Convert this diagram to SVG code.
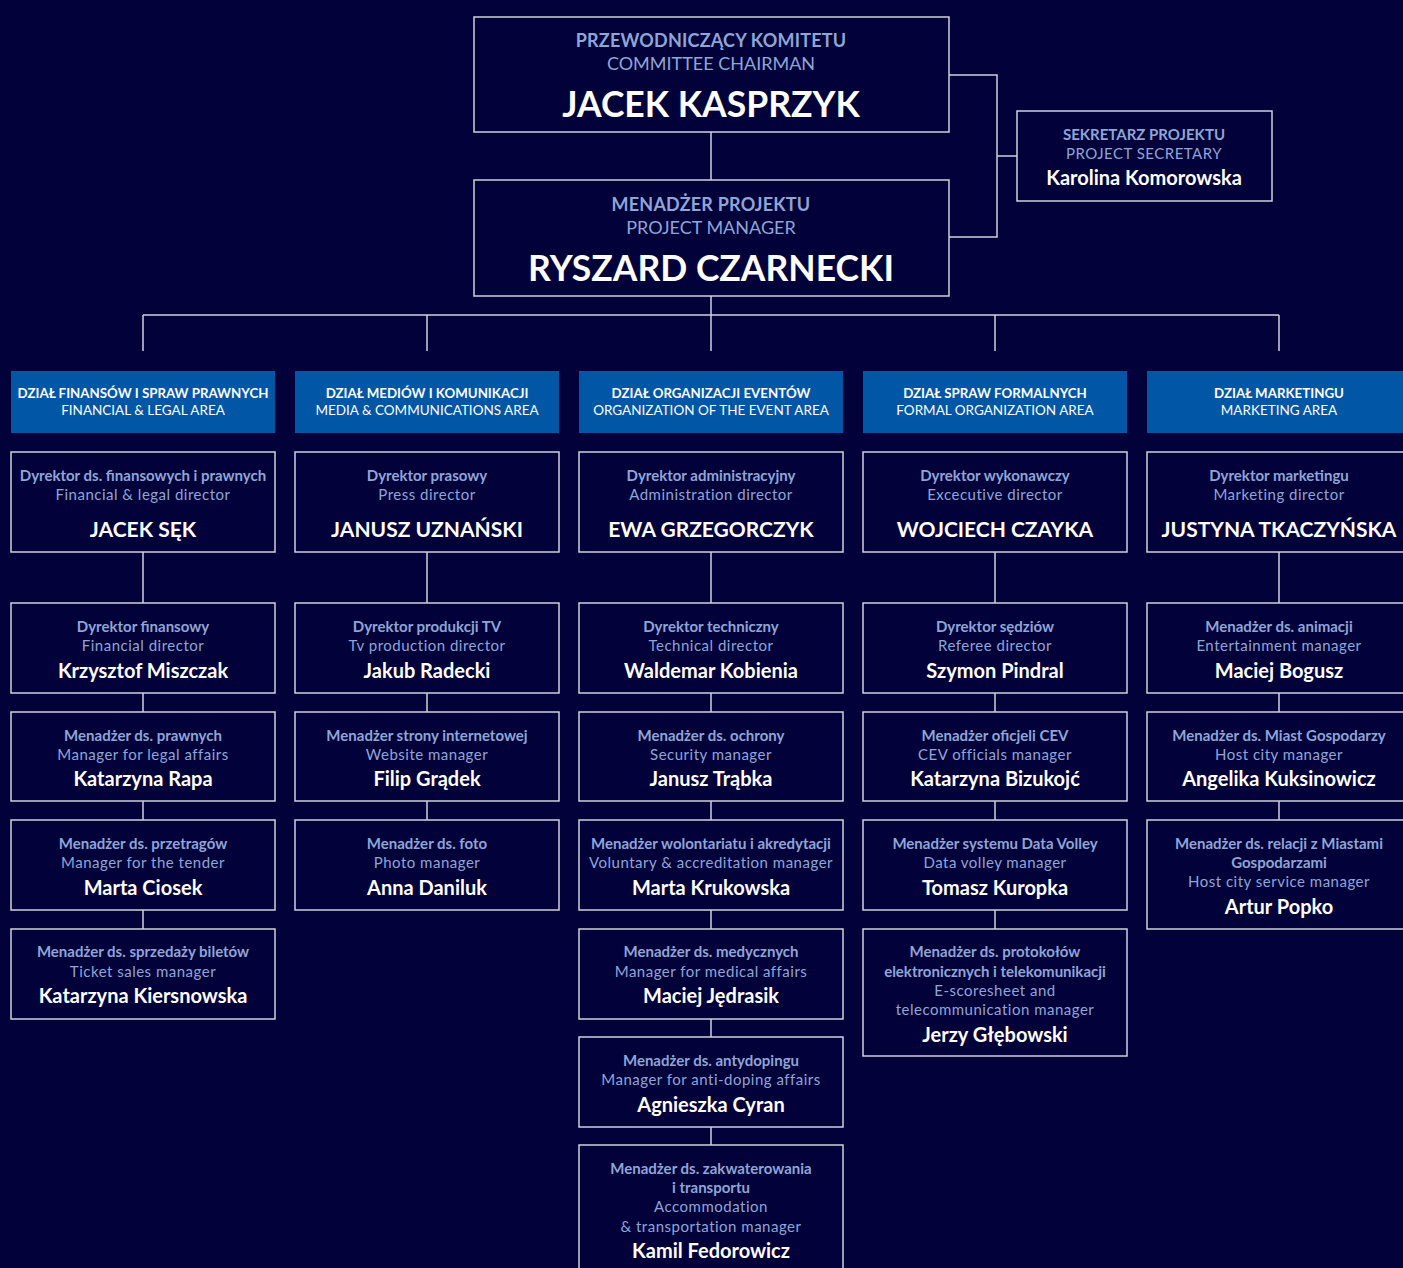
<svg xmlns="http://www.w3.org/2000/svg" width="1403" height="1268" viewBox="0 0 1403 1268">
<style>
text{font-family:Lato,"Noto Sans","Liberation Sans",sans-serif;text-anchor:middle}
.box{fill:#03013a;stroke:#cfd0dc;stroke-width:1.5}
.hdr{fill:#0156a6}
.t{fill:#8ea5d6;font-size:15px;font-weight:700}
.s{fill:#8ea5d6;font-size:15px;font-weight:400;letter-spacing:0.5px}
.n{fill:#ffffff;font-size:20px;font-weight:700}
.N{fill:#ffffff;font-size:21px;font-weight:700}
.ht{fill:#ffffff;font-size:13.3px;font-weight:700}
.hs{fill:#ffffff;font-size:13.5px;font-weight:400}
.big{fill:#ffffff;font-size:35.5px;font-weight:700}
.bt{fill:#8ea5d6;font-size:18px;font-weight:700;letter-spacing:0.2px}
.bs{fill:#8ea5d6;font-size:18px;font-weight:400}
.c{stroke:#cfd0dc;stroke-width:1.5;fill:none}
</style>
<rect width="1403" height="1268" fill="#03013a"/>
<g id="connectors">
<path class="c" d="M949,75H997V237H949M997,156H1017"/>
<path class="c" d="M711,132V180M711,296V315M143,315H1279M143,315V351M427,315V351M711,315V351M995,315V351M1279,315V351"/>
<path class="c" d="M143,552V603M143,693V712M143,801V820M143,910V929"/>
<path class="c" d="M427,552V603M427,693V712M427,801V820"/>
<path class="c" d="M711,552V603M711,693V712M711,801V820M711,910V929M711,1019V1037M711,1127V1145"/>
<path class="c" d="M995,552V603M995,693V712M995,801V820M995,910V929"/>
<path class="c" d="M1279,552V603M1279,693V712M1279,801V820"/>
</g>
<g id="chairman"><rect class="box" x="474" y="17" width="475" height="115"/>
<text x="711" y="47" class="bt">PRZEWODNICZĄCY KOMITETU</text>
<text x="711" y="70" class="bs">COMMITTEE CHAIRMAN</text>
<text x="711" y="117" class="big">JACEK KASPRZYK</text></g>
<g id="manager"><rect class="box" x="474" y="180" width="475" height="116"/>
<text x="711" y="211" class="bt">MENADŻER PROJEKTU</text>
<text x="711" y="234" class="bs">PROJECT MANAGER</text>
<text x="711" y="281" class="big">RYSZARD CZARNECKI</text></g>
<g id="secretary"><rect class="box" x="1017" y="111" width="255" height="90"/>
<text x="1144" y="140" class="t">SEKRETARZ PROJEKTU</text>
<text x="1144" y="159" class="s">PROJECT SECRETARY</text>
<text x="1144" y="185" class="n">Karolina Komorowska</text></g>

<g id="h1"><rect class="hdr" x="11" y="371" width="264" height="62"/><text x="143" y="398" class="ht">DZIAŁ FINANSÓW I SPRAW PRAWNYCH</text><text x="143" y="415" class="hs">FINANCIAL &amp; LEGAL AREA</text></g>
<g id="h2"><rect class="hdr" x="295" y="371" width="264" height="62"/><text x="427" y="398" class="ht">DZIAŁ MEDIÓW I KOMUNIKACJI</text><text x="427" y="415" class="hs">MEDIA &amp; COMMUNICATIONS AREA</text></g>
<g id="h3"><rect class="hdr" x="579" y="371" width="264" height="62"/><text x="711" y="398" class="ht">DZIAŁ ORGANIZACJI EVENTÓW</text><text x="711" y="415" class="hs">ORGANIZATION OF THE EVENT AREA</text></g>
<g id="h4"><rect class="hdr" x="863" y="371" width="264" height="62"/><text x="995" y="398" class="ht">DZIAŁ SPRAW FORMALNYCH</text><text x="995" y="415" class="hs">FORMAL ORGANIZATION AREA</text></g>
<g id="h5"><rect class="hdr" x="1147" y="371" width="264" height="62"/><text x="1279" y="398" class="ht">DZIAŁ MARKETINGU</text><text x="1279" y="415" class="hs">MARKETING AREA</text></g>

<g id="d1"><rect class="box" x="11" y="452" width="264" height="100"/><text x="143" y="481" class="t">Dyrektor ds. finansowych i prawnych</text><text x="143" y="500" class="s">Financial &amp; legal director</text><text x="143" y="537" class="N">JACEK SĘK</text></g>
<g id="d2"><rect class="box" x="295" y="452" width="264" height="100"/><text x="427" y="481" class="t">Dyrektor prasowy</text><text x="427" y="500" class="s">Press director</text><text x="427" y="537" class="N">JANUSZ UZNAŃSKI</text></g>
<g id="d3"><rect class="box" x="579" y="452" width="264" height="100"/><text x="711" y="481" class="t">Dyrektor administracyjny</text><text x="711" y="500" class="s">Administration director</text><text x="711" y="537" class="N">EWA GRZEGORCZYK</text></g>
<g id="d4"><rect class="box" x="863" y="452" width="264" height="100"/><text x="995" y="481" class="t">Dyrektor wykonawczy</text><text x="995" y="500" class="s">Excecutive director</text><text x="995" y="537" class="N">WOJCIECH CZAYKA</text></g>
<g id="d5"><rect class="box" x="1147" y="452" width="264" height="100"/><text x="1279" y="481" class="t">Dyrektor marketingu</text><text x="1279" y="500" class="s">Marketing director</text><text x="1279" y="537" class="N">JUSTYNA TKACZYŃSKA</text></g>

<g id="c1r1"><rect class="box" x="11" y="603" width="264" height="90"/><text x="143" y="632" class="t">Dyrektor finansowy</text><text x="143" y="651" class="s">Financial director</text><text x="143" y="678" class="n">Krzysztof Miszczak</text></g>
<g id="c1r2"><rect class="box" x="11" y="712" width="264" height="89"/><text x="143" y="741" class="t">Menadżer ds. prawnych</text><text x="143" y="760" class="s">Manager for legal affairs</text><text x="143" y="786" class="n">Katarzyna Rapa</text></g>
<g id="c1r3"><rect class="box" x="11" y="820" width="264" height="90"/><text x="143" y="849" class="t">Menadżer ds. przetragów</text><text x="143" y="868" class="s">Manager for the tender</text><text x="143" y="895" class="n">Marta Ciosek</text></g>
<g id="c1r4"><rect class="box" x="11" y="929" width="264" height="90"/><text x="143" y="957" class="t">Menadżer ds. sprzedaży biletów</text><text x="143" y="977" class="s">Ticket sales manager</text><text x="143" y="1003" class="n">Katarzyna Kiersnowska</text></g>

<g id="c2r1"><rect class="box" x="295" y="603" width="264" height="90"/><text x="427" y="632" class="t">Dyrektor produkcji TV</text><text x="427" y="651" class="s">Tv production director</text><text x="427" y="678" class="n">Jakub Radecki</text></g>
<g id="c2r2"><rect class="box" x="295" y="712" width="264" height="89"/><text x="427" y="741" class="t">Menadżer strony internetowej</text><text x="427" y="760" class="s">Website manager</text><text x="427" y="786" class="n">Filip Grądek</text></g>
<g id="c2r3"><rect class="box" x="295" y="820" width="264" height="90"/><text x="427" y="849" class="t">Menadżer ds. foto</text><text x="427" y="868" class="s">Photo manager</text><text x="427" y="895" class="n">Anna Daniluk</text></g>

<g id="c3r1"><rect class="box" x="579" y="603" width="264" height="90"/><text x="711" y="632" class="t">Dyrektor techniczny</text><text x="711" y="651" class="s">Technical director</text><text x="711" y="678" class="n">Waldemar Kobienia</text></g>
<g id="c3r2"><rect class="box" x="579" y="712" width="264" height="89"/><text x="711" y="741" class="t">Menadżer ds. ochrony</text><text x="711" y="760" class="s">Security manager</text><text x="711" y="786" class="n">Janusz Trąbka</text></g>
<g id="c3r3"><rect class="box" x="579" y="820" width="264" height="90"/><text x="711" y="849" class="t">Menadżer wolontariatu i akredytacji</text><text x="711" y="868" class="s">Voluntary &amp; accreditation manager</text><text x="711" y="895" class="n">Marta Krukowska</text></g>
<g id="c3r4"><rect class="box" x="579" y="929" width="264" height="90"/><text x="711" y="957" class="t">Menadżer ds. medycznych</text><text x="711" y="977" class="s">Manager for medical affairs</text><text x="711" y="1003" class="n">Maciej Jędrasik</text></g>
<g id="c3r5"><rect class="box" x="579" y="1037" width="264" height="90"/><text x="711" y="1066" class="t">Menadżer ds. antydopingu</text><text x="711" y="1085" class="s">Manager for anti-doping affairs</text><text x="711" y="1112" class="n">Agnieszka Cyran</text></g>
<g id="c3r6"><rect class="box" x="579" y="1145" width="264" height="130"/><text x="711" y="1174" class="t">Menadżer ds. zakwaterowania</text><text x="711" y="1193" class="t">i transportu</text><text x="711" y="1212" class="s">Accommodation</text><text x="711" y="1232" class="s">&amp; transportation manager</text><text x="711" y="1258" class="n">Kamil Fedorowicz</text></g>

<g id="c4r1"><rect class="box" x="863" y="603" width="264" height="90"/><text x="995" y="632" class="t">Dyrektor sędziów</text><text x="995" y="651" class="s">Referee director</text><text x="995" y="678" class="n">Szymon Pindral</text></g>
<g id="c4r2"><rect class="box" x="863" y="712" width="264" height="89"/><text x="995" y="741" class="t">Menadżer oficjeli CEV</text><text x="995" y="760" class="s">CEV officials manager</text><text x="995" y="786" class="n">Katarzyna Bizukojć</text></g>
<g id="c4r3"><rect class="box" x="863" y="820" width="264" height="90"/><text x="995" y="849" class="t">Menadżer systemu Data Volley</text><text x="995" y="868" class="s">Data volley manager</text><text x="995" y="895" class="n">Tomasz Kuropka</text></g>
<g id="c4r4"><rect class="box" x="863" y="929" width="264" height="127"/><text x="995" y="957" class="t">Menadżer ds. protokołów</text><text x="995" y="977" class="t">elektronicznych i telekomunikacji</text><text x="995" y="996" class="s">E-scoresheet and</text><text x="995" y="1015" class="s">telecommunication manager</text><text x="995" y="1042" class="n">Jerzy Głębowski</text></g>

<g id="c5r1"><rect class="box" x="1147" y="603" width="264" height="90"/><text x="1279" y="632" class="t">Menadżer ds. animacji</text><text x="1279" y="651" class="s">Entertainment manager</text><text x="1279" y="678" class="n">Maciej Bogusz</text></g>
<g id="c5r2"><rect class="box" x="1147" y="712" width="264" height="89"/><text x="1279" y="741" class="t">Menadżer ds. Miast Gospodarzy</text><text x="1279" y="760" class="s">Host city manager</text><text x="1279" y="786" class="n">Angelika Kuksinowicz</text></g>
<g id="c5r3"><rect class="box" x="1147" y="820" width="264" height="109"/><text x="1279" y="849" class="t">Menadżer ds. relacji z Miastami</text><text x="1279" y="868" class="t">Gospodarzami</text><text x="1279" y="887" class="s">Host city service manager</text><text x="1279" y="914" class="n">Artur Popko</text></g>
</svg>
